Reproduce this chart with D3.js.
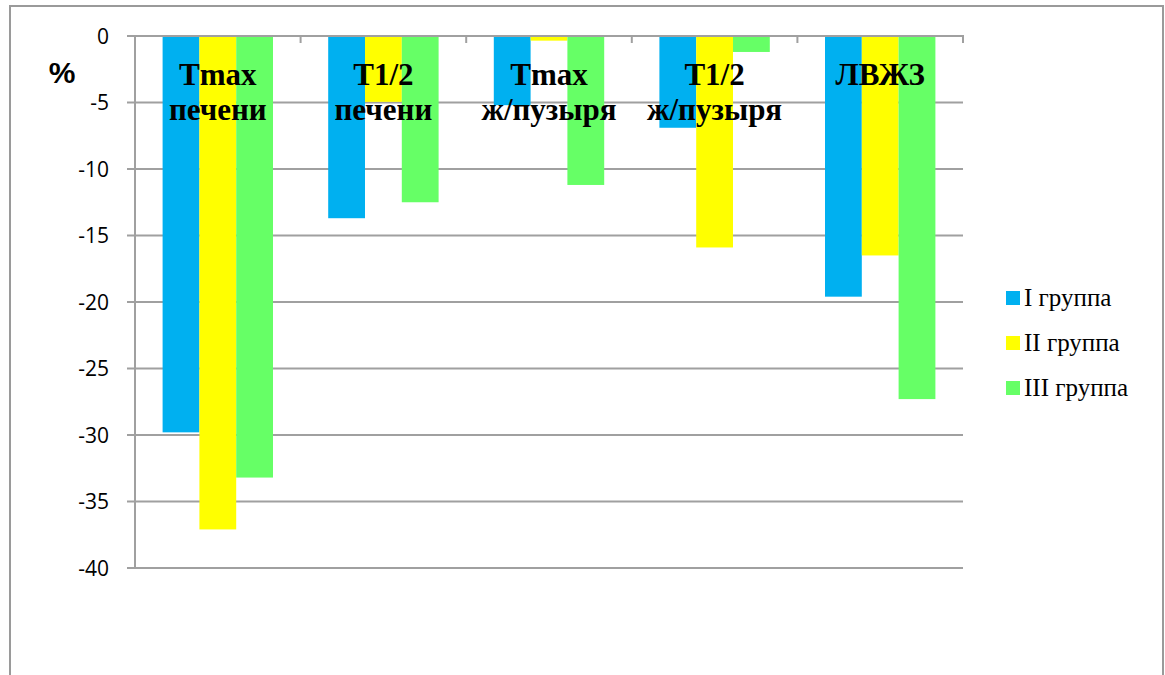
<!DOCTYPE html>
<html>
<head>
<meta charset="utf-8">
<script src="https://cdn.jsdelivr.net/npm/d3@7"></script>
<style>
  html, body { margin: 0; padding: 0; background: #fff; }
  svg { display: block; }
  .serif { font-family: "Liberation Serif", "Times New Roman", serif; }
</style>
</head>
<body>
<svg id="chart" width="1165" height="675"></svg>
<script>
// Category labels (two lines each) and the three groups
const categories = ["Tmax печени", "T1/2 печени", "Tmax ж/пузыря", "T1/2 ж/пузыря", "ЛВЖЗ"];
const categoryLines = [["Tmax", "печени"], ["T1/2", "печени"], ["Tmax", "ж/пузыря"], ["T1/2", "ж/пузыря"], ["ЛВЖЗ"]];
const seriesNames = ["I группа", "II группа", "III группа"];
const seriesColors = ["#00B0F0", "#FFFF00", "#66FF66"];

// Percent change per group
const groupI   = [-29.8, -13.7, -5.2, -6.9, -19.6];
const groupII  = [-37.1, -4.95, -0.35, -15.9, -16.5];
const groupIII = [-33.2, -12.5, -11.2, -1.2, -27.3];
const seriesValues = [groupI, groupII, groupIII];

const yTicks = [0, -5, -10, -15, -20, -25, -30, -35, -40];

const svg = d3.select("#chart");

// Outer frame
svg.append("path")
  .attr("d", "M10,676 V6 H1163 V676")
  .attr("fill", "none")
  .attr("stroke", "#9a9a9a")
  .attr("stroke-width", 2);

const plot = { left: 135, right: 963, top: 36, bottom: 568 };

const x = d3.scaleBand()
  .domain(categories)
  .range([plot.left, plot.right])
  .paddingInner(0)
  .paddingOuter(0);

const xInner = d3.scaleBand()
  .domain(seriesNames)
  .range([0, x.bandwidth()])
  .paddingOuter(0.75)
  .paddingInner(0);

const y = d3.scaleLinear()
  .domain([0, -40])
  .range([plot.top, plot.bottom]);

const gridColor = "#a0a0a0";

// Horizontal gridlines with left tick marks
svg.append("g")
  .selectAll("line")
  .data(yTicks)
  .join("line")
  .attr("x1", plot.left - 8)
  .attr("x2", plot.right)
  .attr("y1", d => y(d))
  .attr("y2", d => y(d))
  .attr("stroke", gridColor)
  .attr("stroke-width", 2);

// Value axis line
svg.append("line")
  .attr("x1", plot.left).attr("x2", plot.left)
  .attr("y1", plot.top).attr("y2", plot.bottom)
  .attr("stroke", gridColor).attr("stroke-width", 2);

// Y tick labels
svg.append("g")
  .selectAll("text")
  .data(yTicks)
  .join("text")
  .attr("x", 109)
  .attr("y", d => y(d))
  .attr("dy", "0.36em")
  .attr("text-anchor", "end")
  .attr("font-family", "'Open Sans', sans-serif")
  .attr("font-size", 21)
  .attr("fill", "#000")
  .text(d => d);

// Bars
const groups = svg.append("g")
  .selectAll("g")
  .data(seriesNames.map((name, i) => ({ name, i, values: seriesValues[i] })))
  .join("g")
  .attr("fill", d => seriesColors[d.i]);

groups.selectAll("rect")
  .data(d => d.values.map((v, k) => ({ series: d.name, cat: categories[k], v })))
  .join("rect")
  .attr("x", d => x(d.cat) + xInner(d.series))
  .attr("width", xInner.bandwidth())
  .attr("y", y(0))
  .attr("height", d => y(d.v) - y(0));

// Category axis along zero line, with ticks pointing down
svg.append("line")
  .attr("x1", plot.left - 8).attr("x2", plot.right + 1)
  .attr("y1", y(0)).attr("y2", y(0))
  .attr("stroke", gridColor).attr("stroke-width", 2);

const catTicks = categories.map(c => x(c)).concat([plot.right]);
svg.append("g")
  .selectAll("line")
  .data(catTicks)
  .join("line")
  .attr("x1", d => d).attr("x2", d => d)
  .attr("y1", y(0)).attr("y2", y(0) + 7)
  .attr("stroke", gridColor).attr("stroke-width", 2);

// Category labels over the bars
const labels = svg.append("g")
  .selectAll("text")
  .data(categories.map((c, i) => ({ c, lines: categoryLines[i] })))
  .join("text")
  .attr("class", "serif")
  .attr("x", d => x(d.c) + x.bandwidth() / 2)
  .attr("y", 85)
  .attr("text-anchor", "middle")
  .attr("font-weight", "bold")
  .attr("font-size", 31)
  .attr("fill", "#000");

labels.selectAll("tspan")
  .data(d => d.lines.map(l => ({ l, cx: x(d.c) + x.bandwidth() / 2 })))
  .join("tspan")
  .attr("x", d => d.cx)
  .attr("dy", (d, i) => i === 0 ? 0 : 35)
  .text(d => d.l);

// Axis title
svg.append("text")
  .attr("x", 62)
  .attr("y", 83)
  .attr("text-anchor", "middle")
  .attr("font-family", "'Liberation Sans', Arial, sans-serif")
  .attr("font-weight", "bold")
  .attr("font-size", 30)
  .text("%");

// Legend
const legend = svg.append("g")
  .selectAll("g")
  .data(seriesNames.map((n, i) => ({ n, i })))
  .join("g")
  .attr("transform", d => `translate(1006, ${298 + d.i * 45})`);

legend.append("rect")
  .attr("x", 0).attr("y", -7)
  .attr("width", 14).attr("height", 14)
  .attr("fill", d => seriesColors[d.i]);

legend.append("text")
  .attr("class", "serif")
  .attr("x", 18)
  .attr("y", 0)
  .attr("dy", "0.33em")
  .attr("font-size", 25)
  .attr("fill", "#000")
  .text(d => d.n);
</script>
</body>
</html>
